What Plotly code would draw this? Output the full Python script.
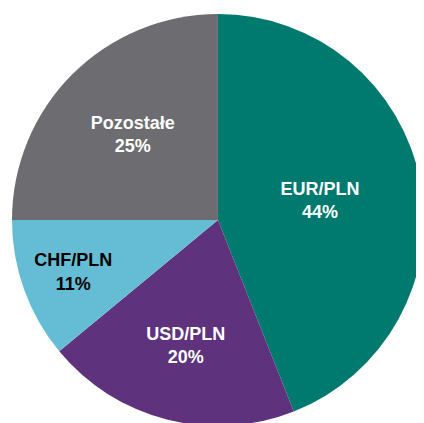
import plotly.graph_objects as go

labels = ["EUR/PLN", "USD/PLN", "CHF/PLN", "Pozostałe"]
values = [44, 20, 11, 25]
colors = ["#00796E", "#5E327C", "#64BDD4", "#6D6C71"]
text_colors = ["#FFFFFF", "#FFFFFF", "#000000", "#FFFFFF"]

fig = go.Figure(go.Pie(
    labels=labels,
    values=values,
    sort=False,
    direction="clockwise",
    rotation=0,
    marker=dict(colors=colors, line=dict(width=0)),
    texttemplate="<b>%{label}</b><br><b>%{value}%</b>",
    textposition="inside",
    insidetextorientation="horizontal",
    textfont=dict(family="Liberation Sans, Arial, sans-serif", size=18, color=text_colors),
    showlegend=False,
    hoverinfo="skip",
    domain=dict(x=[0.0094, 0.981], y=[0.0118, 0.9858]),
))

fig.update_layout(
    width=424,
    height=423,
    margin=dict(l=0, r=0, t=0, b=0),
    paper_bgcolor="white",
    plot_bgcolor="white",
    uniformtext=dict(minsize=18, mode="show"),
)

fig.write_html("out.html")
